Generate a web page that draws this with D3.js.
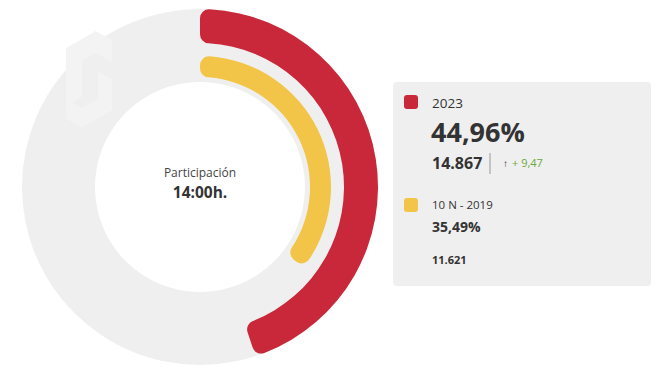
<!DOCTYPE html>
<html>
<head>
<meta charset="utf-8">
<script src="https://cdn.jsdelivr.net/npm/d3@7"></script>
<style>
  html, body { margin: 0; padding: 0; background: #fff; }
  svg { display: block; font-family: "Open Sans", "Noto Sans", sans-serif; }
</style>
</head>
<body>
<div id="chart"></div>
<script>
// data
const series = ["2023", "10 N - 2019"];
const percents = [44.96, 35.49];
const votes = ["14.867", "11.621"];
const percentLabels = ["44,96%", "35,49%"];
const change = "+ 9,47";
const colors = ["#c9283a", "#f2c548"];
const centerLabel = "Participación";
const centerTime = "14:00h.";

const W = 659, H = 371;
const cx = 200, cy = 187;

const svg = d3.select("#chart").append("svg")
    .attr("width", W)
    .attr("height", H);

// percent -> angle
const angle = d3.scaleLinear().domain([0, 100]).range([0, 2 * Math.PI]);

const g = svg.append("g").attr("transform", `translate(${cx},${cy})`);

// grey background ring
g.append("path")
  .attr("fill", "#f0eff0")
  .attr("d", d3.arc()({innerRadius: 105, outerRadius: 178, startAngle: 0, endAngle: 2 * Math.PI}));

// faint watermark logo in the ring
const logo = g.append("g").attr("fill", "#f4f3f4").attr("transform", "translate(-118,-102) scale(1.15)");
logo.append("path").attr("d", "M-14,-32 L12,-47 L26,-39 L26,-20 L12,-28 L0,-21 L0,10 L-14,18 Z");
logo.append("path").attr("d", "M14,-12 L26,-5 L26,22 L0,37 L-14,29 L-14,12 L0,20 L14,12 Z");

// the two series arcs, outer = 2023, inner = 2019
const rings = [
  {inner: 144, outer: 178, corner: 9},
  {inner: 110, outer: 131, corner: 9}
];

g.selectAll("path.serie")
  .data(percents)
  .join("path")
    .attr("class", "serie")
    .attr("fill", (d, i) => colors[i])
    .attr("d", (d, i) => d3.arc()
      .innerRadius(rings[i].inner)
      .outerRadius(rings[i].outer)
      .cornerRadius(rings[i].corner)
      .startAngle(0)
      .endAngle(angle(d))());

// center text
g.append("text")
  .attr("text-anchor", "middle")
  .attr("y", -10)
  .attr("font-size", 12)
  .attr("fill", "#444")
  .text(centerLabel);
g.append("text")
  .attr("text-anchor", "middle")
  .attr("y", 11)
  .attr("font-size", 15.5)
  .attr("font-weight", 700)
  .attr("fill", "#333")
  .text(centerTime);

// legend card
const card = svg.append("g").attr("transform", "translate(393,82)");
card.append("rect")
  .attr("width", 258).attr("height", 204)
  .attr("rx", 4)
  .attr("fill", "#f0eff0");

// 2023 block
card.append("rect")
  .attr("x", 11).attr("y", 13).attr("width", 14).attr("height", 14).attr("rx", 3)
  .attr("fill", colors[0]);
card.append("text")
  .attr("x", 39).attr("y", 26)
  .attr("font-size", 13.5).attr("fill", "#333")
  .text(series[0]);
card.append("text")
  .attr("x", 38).attr("y", 60)
  .attr("font-size", 27).attr("font-weight", 700).attr("fill", "#333")
  .text(percentLabels[0]);
card.append("text")
  .attr("x", 39).attr("y", 87)
  .attr("font-size", 16).attr("font-weight", 700).attr("fill", "#333")
  .text(votes[0]);
card.append("line")
  .attr("x1", 97).attr("x2", 97).attr("y1", 71).attr("y2", 92)
  .attr("stroke", "#999").attr("stroke-width", 1);
card.append("text")
  .attr("x", 110).attr("y", 85)
  .attr("font-size", 10).attr("font-weight", 700).attr("fill", "#333")
  .text("↑");
card.append("text")
  .attr("x", 119).attr("y", 85)
  .attr("font-size", 11).attr("fill", "#6aa83b")
  .text(change);

// 2019 block
card.append("rect")
  .attr("x", 11).attr("y", 116).attr("width", 14).attr("height", 14).attr("rx", 3)
  .attr("fill", colors[1]);
card.append("text")
  .attr("x", 39).attr("y", 127)
  .attr("font-size", 11.5).attr("fill", "#333")
  .text(series[1]);
card.append("text")
  .attr("x", 39).attr("y", 150)
  .attr("font-size", 14).attr("font-weight", 700).attr("fill", "#333")
  .text(percentLabels[1]);
card.append("text")
  .attr("x", 39).attr("y", 182)
  .attr("font-size", 11).attr("font-weight", 700).attr("fill", "#333")
  .text(votes[1]);
</script>
</body>
</html>
